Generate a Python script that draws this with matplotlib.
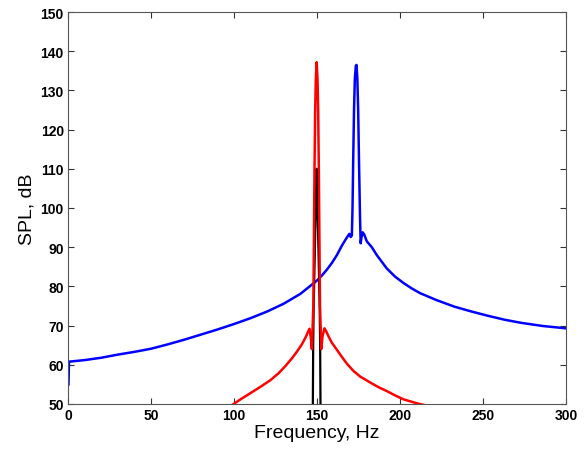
import matplotlib
matplotlib.use("Agg")
import matplotlib.pyplot as plt

# Blue series (frequency Hz, SPL dB)
blue_f = [0.3, 0.6, 10, 20, 30, 40, 50, 60, 70, 80, 90, 100, 110, 120, 130,
          140, 145, 150, 153, 156, 159, 162, 165, 167, 168.5, 169.5, 170.3,
          171.0, 171.4, 171.8, 172.3, 172.8, 173.4, 173.8, 174.3, 174.8, 175.3,
          175.9, 176.3, 176.8, 177.5, 178.5, 180, 183, 186, 189, 192, 197, 202,
          207, 212, 222, 233, 243, 253, 263, 273, 286, 300]
blue_db = [55.0, 60.8, 61.2, 61.8, 62.6, 63.3, 64.1, 65.2, 66.4, 67.7, 69.0,
           70.4, 71.9, 73.6, 75.6, 78.1, 79.8, 81.5, 82.8, 84.3, 86.0, 88.0,
           90.4, 91.8, 92.8, 93.4, 92.6, 93.0, 100, 112, 125, 133, 136.3, 136.5,
           133, 125, 112, 98, 91, 92.5, 93.8, 93.2, 91.5, 90.0, 88.0, 86.3,
           84.6, 82.5, 80.9, 79.5, 78.3, 76.5, 74.8, 73.6, 72.5, 71.5, 70.7,
           69.9, 69.3]

# Red series
red_f = [98, 104, 110, 116, 122, 127, 131, 135, 138, 141, 143, 144.5, 145.5,
         146.2, 146.9, 147.8, 148.2, 148.5, 148.9, 149.3, 149.8, 150.3, 150.7,
         151.1, 151.4, 151.8, 152.6, 153.3, 154.5, 155.5, 157, 159, 161.7, 165,
         168, 171.8, 176, 182, 187, 192, 197, 202, 210, 219]
red_db = [49.5, 51.2, 52.8, 54.4, 56.1, 57.9, 59.7, 61.7, 63.4, 65.3, 66.9,
          68.3, 69.2, 67.2, 64.0, 75, 95, 110, 125, 133, 137.2, 133, 125, 110,
          95, 75, 64.0, 67.2, 69.3, 68.6, 67.2, 65.6, 64.0, 62.0, 60.3, 58.5,
          57.0, 55.5, 54.3, 53.3, 52.2, 51.2, 50.2, 49.3]

# Black series
black_f = [147.4, 147.5, 147.7, 148.0, 148.5, 149.0, 149.5, 149.8, 150.1, 150.6,
           151.1, 151.6, 151.9, 152.1, 152.2]
black_db = [45, 50, 65, 75, 85, 95, 105, 110, 105, 95, 85, 75, 65, 50, 45]

xticks = [0, 50, 100, 150, 200, 250, 300]
yticks = [50, 60, 70, 80, 90, 100, 110, 120, 130, 140, 150]

plt.rcParams['font.family'] = ['Liberation Sans', 'DejaVu Sans']

fig = plt.figure(figsize=(5.87, 4.52), dpi=100)
ax = fig.add_axes([68/587, 1 - 405/452, (566-68)/587, (405-13)/452])

ax.plot(blue_f, blue_db, color='#0000ff', lw=1.8, zorder=2)
ax.plot(black_f, black_db, color='black', lw=1.6, zorder=3)
ax.plot(red_f, red_db, color='#ff0000', lw=1.8, zorder=4)

ax.set_xlim(0, 300)
ax.set_ylim(50, 150)
ax.set_xticks(xticks)
ax.set_yticks(yticks)
ax.tick_params(direction='in', length=4, width=0.8, colors='#333333',
               top=True, right=True, labelsize=10, labelcolor='black', pad=3)
for lab in ax.get_xticklabels() + ax.get_yticklabels():
    lab.set_fontweight('bold')
for sp in ax.spines.values():
    sp.set_color('#555555')
    sp.set_linewidth(0.8)

ax.set_xlabel('Frequency, Hz', fontsize=14, labelpad=1)
ax.set_ylabel('SPL, dB', fontsize=14, labelpad=4)

fig.savefig('out.png', dpi=100)
